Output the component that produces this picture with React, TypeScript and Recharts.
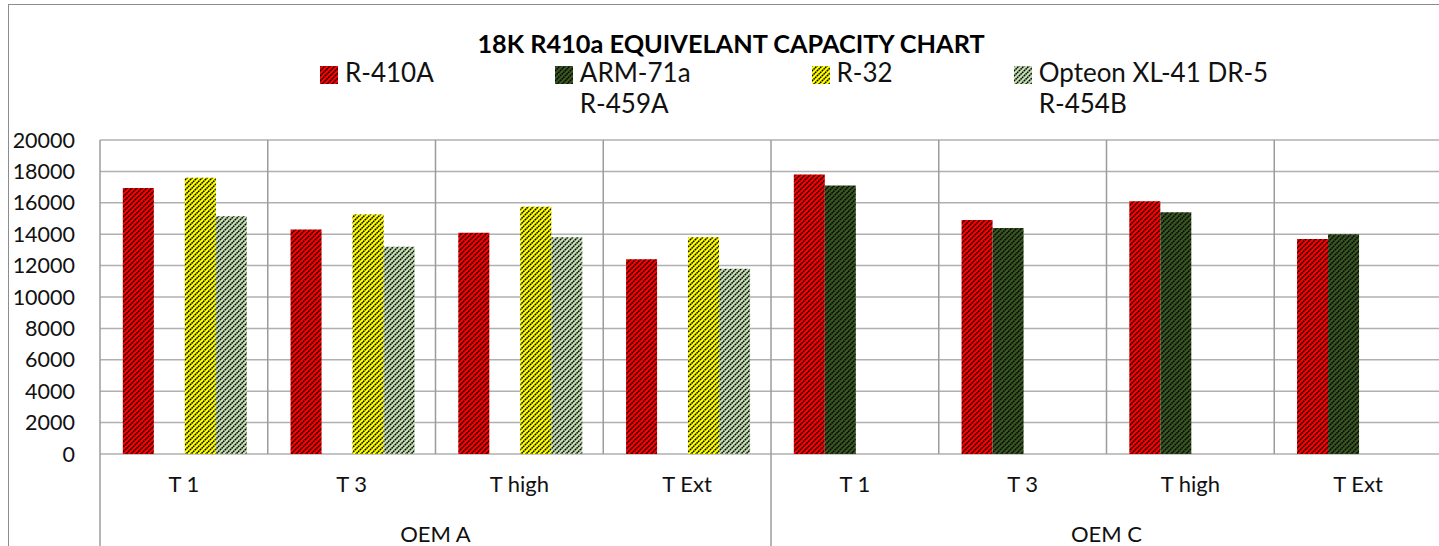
import { BarChart, Bar, XAxis, YAxis, CartesianGrid } from "recharts"

const tests = ["T 1", "T 3", "T high", "T Ext", "T 1", "T 3", "T high", "T Ext"]
const oems = ["OEM A", "OEM A", "OEM A", "OEM A", "OEM C", "OEM C", "OEM C", "OEM C"]

const r410a = [16950, 14300, 14100, 12400, 17800, 14900, 16100, 13700]
const arm71a = [null, null, null, null, 17100, 14400, 15400, 14000]
const r32 = [17600, 15250, 15750, 13800, null, null, null, null]
const opteon = [15150, 13200, 13800, 11800, null, null, null, null]

const yTicks = [0, 2000, 4000, 6000, 8000, 10000, 12000, 14000, 16000, 18000, 20000]

const series = [
  { key: "r410a", name: "R-410A", sub: "", color: "#FF0000", values: r410a },
  { key: "arm71a", name: "ARM-71a", sub: "R-459A", color: "#385723", values: arm71a },
  { key: "r32", name: "R-32", sub: "", color: "#FFFF00", values: r32 },
  { key: "opteon", name: "Opteon XL-41 DR-5", sub: "R-454B", color: "#C5E0B3", values: opteon },
]

const data = tests.map((test, i) => {
  const row: Record<string, any> = { test, oem: oems[i] }
  series.forEach((s) => (row[s.key] = s.values[i]))
  return row
})

const W = 1460
const H = 546
const FONT = "Lato, 'Open Sans', sans-serif"

// category label + the OEM group label and its separators underneath
function TwoLevelTick({ x, y, payload, index }: any) {
  const half = payload.offset ?? 83.9
  const name = oems[index]
  const firstIdx = oems.indexOf(name)
  const size = oems.filter((o) => o === name).length
  const isFirst = index === firstIdx
  const isLast = index === oems.length - 1
  const isCenter = index - firstIdx === Math.floor((size - 1) / 2)
  const labelX = size % 2 === 0 ? x + half : x
  return (
    <g>
      <text x={x} y={y + 38} textAnchor="middle" fontSize={22} fontFamily={FONT} fill="#111">
        {payload.value}
      </text>
      {isFirst && <line x1={x - half} x2={x - half} y1={y} y2={y + 100} stroke="#9C9C9C" strokeWidth={1.5} />}
      {isLast && <line x1={x + half} x2={x + half} y1={y} y2={y + 100} stroke="#9C9C9C" strokeWidth={1.5} />}
      {isCenter && (
        <text x={labelX} y={y + 88} textAnchor="middle" fontSize={22} fontFamily={FONT} fill="#111">
          {name}
        </text>
      )}
    </g>
  )
}

export default function App() {
  return (
    <div style={{ position: "fixed", left: 0, top: 0, width: 1439, height: 546, overflow: "hidden", background: "#fff" }}>
      <svg width={0} height={0} style={{ position: "absolute" }}>
        <defs>
          {series.map((s) => (
            <pattern key={s.key} id={`pat-${s.key}`} width={5} height={5} patternUnits="userSpaceOnUse">
              <rect width={5} height={5} fill={s.color} />
              <path d="M0,5 L5,0 M-1,1 L1,-1 M4,6 L6,4" stroke="#000" strokeWidth={1.5} strokeDasharray="1.6 0.6" />
            </pattern>
          ))}
        </defs>
      </svg>

      <div style={{ position: "absolute", left: 8, top: 4, width: 1500, height: 600, border: "1px solid #8C8C8C" }} />

      <div
        style={{
          position: "absolute",
          left: 0,
          top: 29,
          width: 1462,
          textAlign: "center",
          fontFamily: FONT,
          fontWeight: 700,
          fontSize: 25.3,
          lineHeight: "28px",
          color: "#000",
          whiteSpace: "nowrap",
        }}
      >
        18K R410a EQUIVELANT CAPACITY CHART
      </div>

      <div
        style={{
          position: "absolute",
          left: 320,
          top: 57,
          display: "flex",
          gap: 121,
          fontFamily: FONT,
          fontSize: 26,
          lineHeight: "31px",
          color: "#111",
          whiteSpace: "nowrap",
        }}
      >
        {series.map((s) => (
          <div key={s.key} style={{ display: "flex", alignItems: "flex-start" }}>
            <svg width={18} height={18} style={{ marginTop: 9, marginRight: 7, flex: "none" }}>
              <rect width={18} height={18} fill={`url(#pat-${s.key})`} />
            </svg>
            <div>
              <div>{s.name}</div>
              {s.sub && <div>{s.sub}</div>}
            </div>
          </div>
        ))}
      </div>

      <div style={{ position: "absolute", left: 0, top: 0 }}>
        <BarChart
          width={W}
          height={H}
          data={data}
          margin={{ top: 140, right: 18, left: 20, bottom: 0 }}
          barCategoryGap="13.6%"
          barGap={0}
        >
          <CartesianGrid vertical={false} stroke="#B0B0B0" strokeWidth={1.5} />
          <CartesianGrid
            horizontal={false}
            stroke="#9C9C9C"
            strokeWidth={1.5}
            verticalCoordinatesGenerator={({ offset }: any) =>
              Array.from({ length: tests.length + 1 }, (_, i) => offset.left + (i * offset.width) / tests.length)
            }
          />
          <XAxis
            dataKey="test"
            height={92}
            interval={0}
            tickSize={0}
            tickMargin={0}
            axisLine={false}
            tickLine={false}
            tick={<TwoLevelTick />}
          />
          <YAxis
            width={80}
            domain={[0, 20000]}
            ticks={yTicks}
            interval={0}
            axisLine={false}
            tickLine={false}
            tickSize={0}
            tickMargin={25}
            tick={{ fontSize: 21.5, fill: "#111", fontFamily: FONT }}
          />
          {series.map((s) => (
            <Bar key={s.key} dataKey={s.key} name={s.name} fill={`url(#pat-${s.key})`} isAnimationActive={false} />
          ))}
        </BarChart>
      </div>
    </div>
  )
}
